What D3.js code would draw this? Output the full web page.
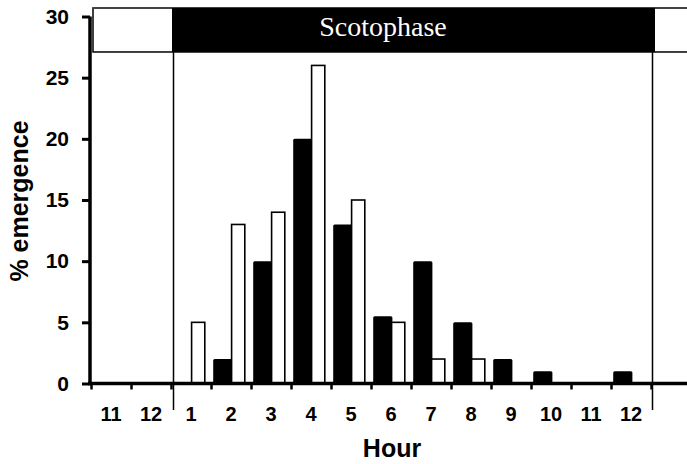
<!DOCTYPE html>
<html><head><meta charset="utf-8">
<script src="https://cdn.jsdelivr.net/npm/d3@7/dist/d3.min.js"></script>
<style>body{margin:0;background:#fff}svg{display:block}</style>
</head><body>
<svg id="c" width="687" height="464"></svg>
<script>
const hours = ["11","12","1","2","3","4","5","6","7","8","9","10","11","12"];
const blackVals = [0,0,0,2,10,20,13,5.5,10,5,2,1,0,1];
const whiteVals = [0,0,5,13,14,26,15,5,2,2,0,0,0,0];
const yTicks = [0,5,10,15,20,25,30];
const phaseLabel = "Scotophase";
const scotoStart = 2, scotoEnd = 14; // category index range of dark phase

const svg = d3.select("#c");
const idx = d3.range(hours.length);
const x = d3.scaleBand().domain(idx).range([91, 651]).padding(0);
const bw = x.bandwidth();
const y = d3.scaleLinear().domain([0, 30]).range([383.5, 16.5]);
const fontS = "'Liberation Sans', Arial, sans-serif";

// photophase / scotophase band
const bandTop = y(30.7), bandBot = y(27.1);
const xs = x(scotoStart), xe = x(scotoEnd - 1) + bw;
svg.append("rect").attr("x", 93).attr("y", bandTop).attr("width", 620).attr("height", bandBot - bandTop)
  .attr("fill", "#fff").attr("stroke", "#000").attr("stroke-width", 1.5);
svg.append("line").attr("x1", 93).attr("x2", 687).attr("y1", bandTop).attr("y2", bandTop)
  .attr("stroke", "#444").attr("stroke-width", 2);
svg.append("rect").attr("x", xs + 1).attr("y", bandTop).attr("width", xe - xs + 3).attr("height", bandBot - bandTop)
  .attr("fill", "#000");
svg.append("text").attr("x", 383).attr("y", bandBot - 16).attr("text-anchor", "middle")
  .attr("font-family", "'Liberation Serif','Times New Roman',serif").attr("font-size", 28)
  .attr("fill", "#fff").text(phaseLabel);

// vertical phase boundaries
[xs + 2.5, xe + 1.5].forEach(px => {
  svg.append("line").attr("x1", px).attr("x2", px).attr("y1", bandBot).attr("y2", 410)
    .attr("stroke", "#000").attr("stroke-width", 1.5);
});

// bars
svg.append("g").selectAll("rect").data(idx.filter(i => blackVals[i] > 0)).join("rect")
  .attr("x", i => x(i) + bw * 0.055).attr("width", bw * 0.48)
  .attr("y", i => y(blackVals[i])).attr("height", i => y(0) - y(blackVals[i]))
  .attr("fill", "#000").attr("rx", 1.5);
svg.append("g").selectAll("rect").data(idx.filter(i => whiteVals[i] > 0)).join("rect")
  .attr("x", i => x(i) + bw * 0.515).attr("width", bw * 0.33)
  .attr("y", i => y(whiteVals[i])).attr("height", i => y(0) - y(whiteVals[i]))
  .attr("fill", "#fff").attr("stroke", "#000").attr("stroke-width", 1.6);

// y axis
const ya = svg.append("g").attr("transform", "translate(90,0)")
  .call(d3.axisLeft(y).tickValues(yTicks).tickSize(8).tickPadding(13));
ya.select(".domain").attr("d", `M0,${y(30)}V${y(0)+1.5}`).attr("stroke-width", 3.5);
ya.selectAll(".tick line").attr("stroke-width", 3);
ya.selectAll("text").attr("font-family", fontS).attr("font-weight", "bold").attr("font-size", 21).attr("fill", "#000");

// x axis
const xa = svg.append("g").attr("transform", `translate(0,${y(0)})`)
  .call(d3.axisBottom(d3.scaleLinear().domain([0, hours.length]).range([91, 651]))
    .tickValues(d3.range(hours.length + 1)).tickSize(6).tickFormat(""));
xa.select(".domain").attr("d", "M88,0H687").attr("stroke-width", 3.5);
xa.selectAll(".tick line").attr("stroke-width", 2.5);
svg.append("g").selectAll("text").data(idx).join("text")
  .attr("x", i => x(i) + bw / 2).attr("y", 421).attr("text-anchor", "middle")
  .attr("font-family", fontS).attr("font-weight", "bold").attr("font-size", 20)
  .text(i => hours[i]);

// axis titles
svg.append("text").attr("x", 392).attr("y", 457).attr("text-anchor", "middle")
  .attr("font-family", fontS).attr("font-weight", "bold").attr("font-size", 25).text("Hour");
svg.append("text").attr("transform", "translate(28,201) rotate(-90)").attr("text-anchor", "middle")
  .attr("font-family", fontS).attr("font-weight", "bold").attr("font-size", 25).text("% emergence");
</script>
</body></html>
